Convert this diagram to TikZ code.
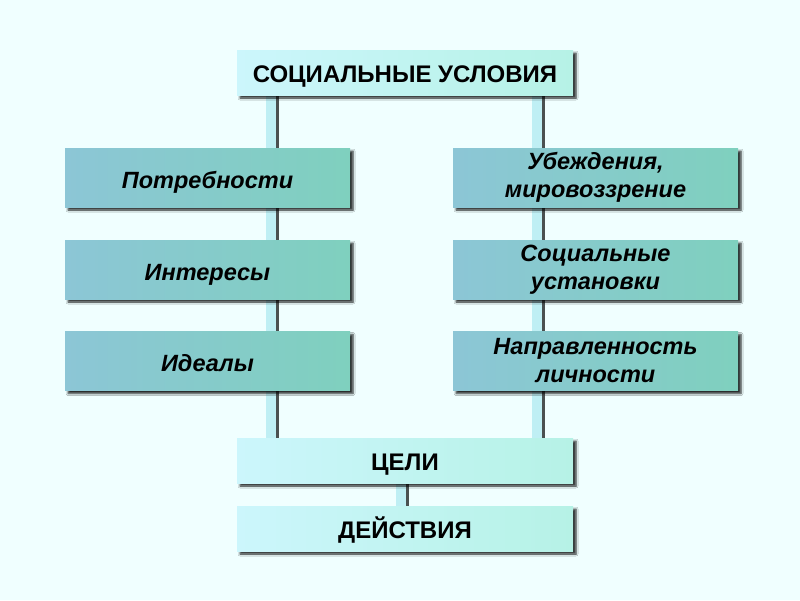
\documentclass[tikz,border=0pt]{standalone}
\usepackage{fontspec}
\setmainfont{Liberation Sans}
\usetikzlibrary{shadows.blur}
\definecolor{bgc}{HTML}{F0FFFF}
\definecolor{lightA}{HTML}{CCF6FC}
\definecolor{lightB}{HTML}{B6F2E6}
\definecolor{midA}{HTML}{8CC6D6}
\definecolor{midB}{HTML}{7FD0BE}
\definecolor{connc}{HTML}{BFEFF4}
\definecolor{shad}{HTML}{4A5050}
\tikzset{
  lightbox/.style={draw=none, left color=lightA, right color=lightB, minimum height=45pt,
    minimum width=336pt, font=\bfseries\fontsize{24}{26}\selectfont, text=black,
    text height=20.5pt, text depth=0pt, inner sep=0pt,
    blur shadow={shadow xshift=3pt, shadow yshift=-3pt, shadow blur steps=5, shadow blur radius=2pt, shadow opacity=85}},
  sidebox/.style={draw=none, left color=midA, right color=midB, minimum height=59pt,
    minimum width=285pt, align=center, font=\bfseries\itshape\fontsize{23.5}{28}\selectfont, text=black,
    inner sep=0pt,
    blur shadow={shadow xshift=3pt, shadow yshift=-3pt, shadow blur steps=5, shadow blur radius=2pt, shadow opacity=85}},
  oneline/.style={text height=21pt, text depth=0pt},
  connshadow/.style={line width=10pt, draw=shad},
  conn/.style={line width=10pt, draw=connc},
}
\begin{document}
\begin{tikzpicture}[x=1pt,y=-1pt]
\fill[bgc] (0,0) rectangle (800,600);
\useasboundingbox (0,0) rectangle (800,600);
\path
  (405,72.5) coordinate (ptop)
  (405,460.5) coordinate (pgoal)
  (405,528.5) coordinate (pact);
% connector coordinates
\coordinate (lt) at (270.5,95);
\coordinate (lb) at (270.5,438);
\coordinate (rt) at (537,95);
\coordinate (rb) at (537,438);
\coordinate (mt) at (400.5,483);
\coordinate (mb) at (400.5,506);
% connectors: shadow then body
\foreach \a/\b in {lt/lb, rt/rb, mt/mb}{
  \draw[connshadow] ([xshift=3pt]\a) -- ([xshift=3pt]\b);
  \draw[conn] (\a) -- (\b);
}
\node[lightbox] (top) at (ptop) {СОЦИАЛЬНЫЕ УСЛОВИЯ};
\node[lightbox] (goals) at (pgoal) {ЦЕЛИ};
\node[lightbox] (acts) at (pact) {ДЕЙСТВИЯ};
\node[sidebox, oneline] (needs) at (207.5,177.5) {Потребности};
\node[sidebox, oneline] (inter) at (207.5,269.5) {Интересы};
\node[sidebox, oneline] (ideal) at (207.5,361) {Идеалы};
\node[sidebox] (beliefs) at (595.5,177.5) {Убеждения,\\мировоззрение};
\node[sidebox] (attit) at (595.5,269.5) {Социальные\\установки};
\node[sidebox] (orient) at (595.5,361) {Направленность\\личности};
\end{tikzpicture}
\end{document}
